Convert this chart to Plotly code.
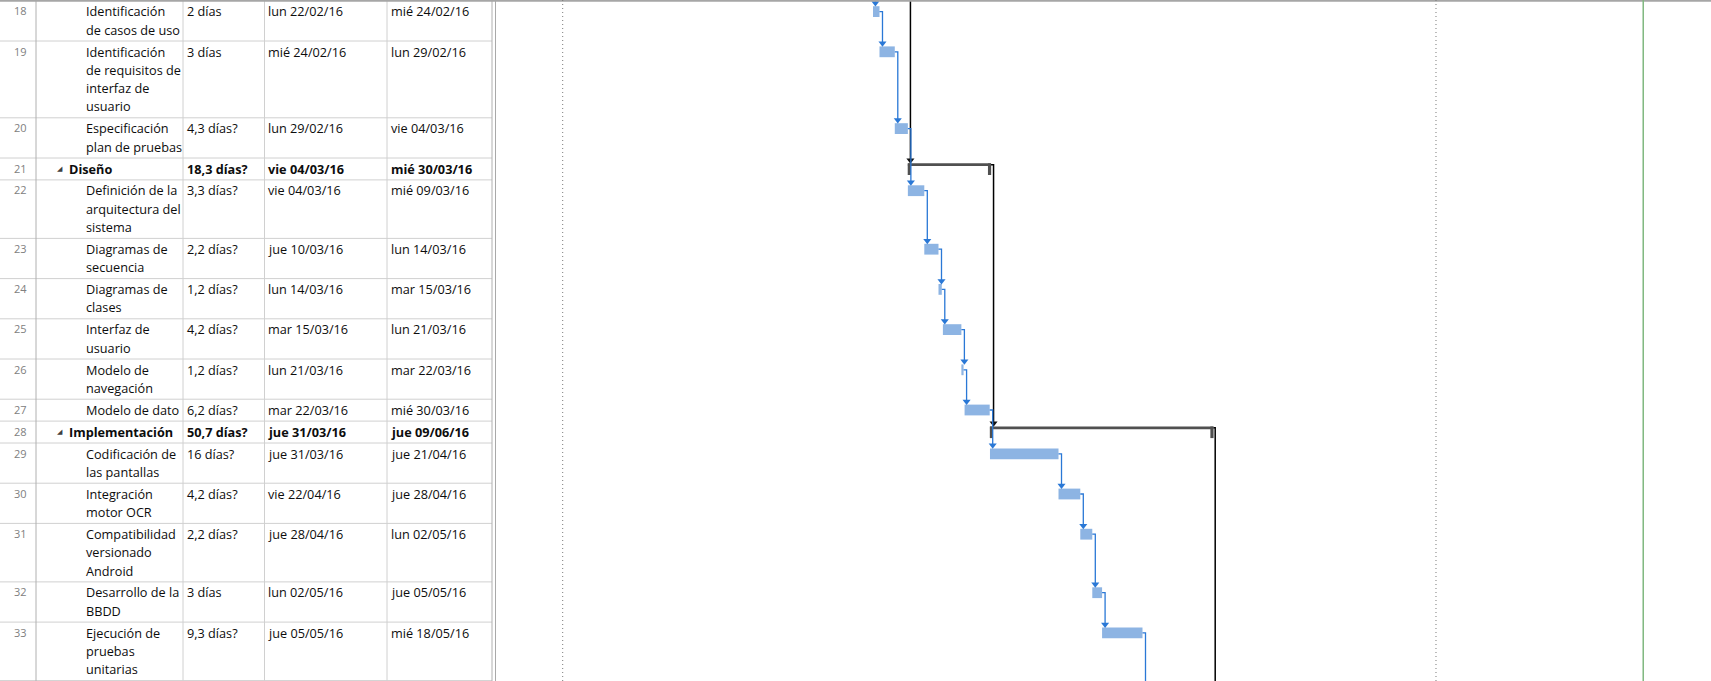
import plotly.graph_objects as go
import pandas as pd

# ---------------- data ----------------
task_ids = [18, 19, 20, 21, 22, 23, 24, 25, 26, 27, 28, 29, 30, 31, 32, 33]
task_names = [
    "Identificación\nde casos de uso",
    "Identificación\nde requisitos de\ninterfaz de\nusuario",
    "Especificación\nplan de pruebas",
    "Diseño",
    "Definición de la\narquitectura del\nsistema",
    "Diagramas de\nsecuencia",
    "Diagramas de\nclases",
    "Interfaz de\nusuario",
    "Modelo de\nnavegación",
    "Modelo de dato",
    "Implementación",
    "Codificación de\nlas pantallas",
    "Integración\nmotor OCR",
    "Compatibilidad\nversionado\nAndroid",
    "Desarrollo de la\nBBDD",
    "Ejecución de\npruebas\nunitarias",
]
is_summary = [False, False, False, True, False, False, False, False, False, False,
              True, False, False, False, False, False]
durations = ["2 días", "3 días", "4,3 días?", "18,3 días?", "3,3 días?", "2,2 días?",
             "1,2 días?", "4,2 días?", "1,2 días?", "6,2 días?", "50,7 días?", "16 días?",
             "4,2 días?", "2,2 días?", "3 días", "9,3 días?"]
start_labels = ["lun 22/02/16", "mié 24/02/16", "lun 29/02/16", "vie 04/03/16", "vie 04/03/16",
                "jue 10/03/16", "lun 14/03/16", "mar 15/03/16", "lun 21/03/16", "mar 22/03/16",
                "jue 31/03/16", "jue 31/03/16", "vie 22/04/16", "jue 28/04/16", "lun 02/05/16",
                "jue 05/05/16"]
finish_labels = ["mié 24/02/16", "lun 29/02/16", "vie 04/03/16", "mié 30/03/16", "mié 09/03/16",
                 "lun 14/03/16", "mar 15/03/16", "lun 21/03/16", "mar 22/03/16", "mié 30/03/16",
                 "jue 09/06/16", "jue 21/04/16", "jue 28/04/16", "lun 02/05/16", "jue 05/05/16",
                 "mié 18/05/16"]
# bar extents as drawn on the timescale
bar_starts = ["2016-02-22 08:00", "2016-02-24 09:40", "2016-02-29 06:34", "2016-03-04 10:38",
              "2016-03-04 10:38", "2016-03-09 16:10", "2016-03-14 04:38", "2016-03-15 14:15",
              "2016-03-21 11:36", "2016-03-22 12:05", "2016-03-30 14:14", "2016-03-30 14:14",
              "2016-04-21 09:55", "2016-04-28 08:29", "2016-05-02 04:10", "2016-05-05 07:00"]
bar_ends = ["2016-02-24 09:40", "2016-02-29 06:34", "2016-03-04 10:38", "2016-03-30 21:55",
            "2016-03-09 16:10", "2016-03-14 04:38", "2016-03-15 05:50", "2016-03-21 11:36",
            "2016-03-22 04:24", "2016-03-30 12:05", "2016-06-09 17:50", "2016-04-21 09:55",
            "2016-04-28 08:29", "2016-05-02 04:10", "2016-05-05 07:00", "2016-05-18 03:55"]
# finish-to-start dependencies (task ids)
task_links = [(18, 19), (19, 20), (20, 22), (22, 23), (23, 24), (24, 25), (25, 26), (26, 27),
              (27, 29), (29, 30), (30, 31), (31, 32), (32, 33)]
summary_links = [(21, 28)]
link_from_above = 18        # task with a predecessor above the view
summary_from_above = 21
link_to_below = 33
summary_to_below = 28
# timescale window and vertical markers
view_start = "2015-10-25 06:35"
view_end = "2016-11-15 05:10"
dotted_markers = ["2015-11-15 12:20", "2016-08-19 15:10"]
green_marker = "2016-10-24 15:10"

# ---------------- layout constants ----------------
W, H = 1711, 681
TABLE_W = 496
col_lines = [36, 183, 264.5, 387, 492]
LINE_H = 18.3
FONT = "Open Sans"
FS = 12.7
BAR_BLUE = "#8db4e3"
LINK_BLUE = "#2a78d6"
SUM_GREY = "#505050"

starts = pd.to_datetime(bar_starts)
ends = pd.to_datetime(bar_ends)
dx = pd.Timedelta(hours=23)
half_tick = pd.Timedelta(hours=11)

n_lines = [len(n.split("\n")) for n in task_names]
row_top = []
y = 0.8
for n in n_lines:
    row_top.append(y)
    y += 3.6 + LINE_H * n
row_bottoms = [t + 3.6 + LINE_H * n for t, n in zip(row_top, n_lines)]
idx = {tid: i for i, tid in enumerate(task_ids)}

fig = go.Figure()

# ---------------- table (annotations on x2) ----------------
annotations = []
for i, tid in enumerate(task_ids):
    top = row_top[i]
    first = top + 10.5
    annotations.append(dict(x=12, y=first - 0.5, text=str(tid), xref="x2", yref="y",
                            xanchor="left", yanchor="middle", showarrow=False,
                            font=dict(family=FONT, size=11, color="#808080")))
    bold = is_summary[i]
    if bold:
        annotations.append(dict(x=55, y=first, text="◢", xref="x2", yref="y",
                                xanchor="left", yanchor="middle", showarrow=False,
                                font=dict(family="DejaVu Sans", size=7, color="#404040")))
    name_x = 67 if bold else 84
    for k, line in enumerate(task_names[i].split("\n")):
        txt = f"<b>{line}</b>" if bold else line
        annotations.append(dict(x=name_x, y=first + k * LINE_H, text=txt, xref="x2", yref="y",
                                xanchor="left", yanchor="middle", showarrow=False,
                                font=dict(family=FONT, size=FS, color="#0d0d0d")))
    for xx, val in [(185, durations[i]), (265.5, start_labels[i]), (389, finish_labels[i])]:
        txt = f"<b>{val}</b>" if bold else val
        annotations.append(dict(x=xx, y=first, text=txt, xref="x2", yref="y",
                                xanchor="left", yanchor="middle", showarrow=False,
                                font=dict(family=FONT, size=FS, color="#0d0d0d")))

shapes = []
for b in row_bottoms:
    shapes.append(dict(type="line", xref="x2", yref="y", x0=0, x1=492, y0=b, y1=b,
                       line=dict(color="#d0d0d0", width=1)))
for j, cx in enumerate(col_lines):
    shapes.append(dict(type="line", xref="x2", yref="y", x0=cx, x1=cx, y0=0, y1=H,
                       line=dict(color="#b0b0b0" if j in (0, 4) else "#d0d0d0", width=1)))
shapes.append(dict(type="line", xref="x2", yref="y", x0=495.5, x1=495.5, y0=0, y1=H,
                   line=dict(color="#a9a9a9", width=1)))
shapes.append(dict(type="line", xref="paper", yref="y", x0=0, x1=1, y0=0.8, y1=0.8,
                   line=dict(color="#a6a6a6", width=2)))
for d in dotted_markers:
    shapes.append(dict(type="line", xref="x", yref="y", x0=d, x1=d, y0=0, y1=H,
                       line=dict(color="#7a7a7a", width=1, dash="1px,3px")))
shapes.append(dict(type="line", xref="x", yref="y", x0=green_marker, x1=green_marker, y0=0, y1=H,
                   line=dict(color="#7fb87f", width=1.5)))

# invisible anchor so x2 exists
fig.add_trace(go.Scatter(x=[0, 496], y=[H, H], mode="markers", marker=dict(opacity=0),
                         xaxis="x2", yaxis="y", hoverinfo="skip", showlegend=False))

# ---------------- gantt ----------------
task_i = [i for i in range(len(task_ids)) if not is_summary[i]]
sum_i = [i for i in range(len(task_ids)) if is_summary[i]]

def bar_center(i):
    return row_top[i] + (6.7 if is_summary[i] else 10.8)

def bar_top(i):
    return row_top[i] + (5.4 if is_summary[i] else 5.5)

# black summary links (drawn first)
bx, by, ax_, ay_ = [], [], [], []
s = idx[summary_from_above]
xl = starts[s] + dx * 0.85
bx += [xl, xl, None]; by += [-2, bar_top(s) - 4, None]
ax_.append(xl); ay_.append(bar_top(s) - 3.2)
for a, b in summary_links:
    ia, ib = idx[a], idx[b]
    xl = ends[ia] + dx * 0.85
    bx += [ends[ia], xl, xl, None]
    by += [bar_center(ia), bar_center(ia), bar_top(ib) - 4, None]
    ax_.append(xl); ay_.append(bar_top(ib) - 3.2)
s = idx[summary_to_below]
xl = ends[s] + dx * 0.6
bx += [ends[s], xl, xl, None]; by += [bar_center(s), bar_center(s), H + 2, None]
fig.add_trace(go.Scatter(x=bx, y=by, mode="lines", line=dict(color="#000000", width=1.5),
                         hoverinfo="skip", showlegend=False))
fig.add_trace(go.Scatter(x=ax_, y=ay_, mode="markers",
                         marker=dict(symbol="triangle-down", size=7, color="#111111"),
                         hoverinfo="skip", showlegend=False))

# summary bars
fig.add_trace(go.Bar(orientation="h", base=[starts[i] for i in sum_i],
                     x=[(ends[i] - starts[i]).total_seconds() * 1000 for i in sum_i],
                     y=[bar_center(i) for i in sum_i], width=2.8,
                     marker=dict(color=SUM_GREY, line=dict(width=0)),
                     hoverinfo="skip", showlegend=False))
tx, ty = [], []
for i in sum_i:
    for xx in (starts[i] + half_tick, ends[i] - half_tick):
        tx += [xx, xx, None]
        ty += [bar_top(i), row_top[i] + 17, None]
fig.add_trace(go.Scatter(x=tx, y=ty, mode="lines", line=dict(color=SUM_GREY, width=3.2),
                         hoverinfo="skip", showlegend=False))

# task bars
fig.add_trace(go.Bar(orientation="h", base=[starts[i] for i in task_i],
                     x=[(ends[i] - starts[i]).total_seconds() * 1000 for i in task_i],
                     y=[bar_center(i) for i in task_i], width=10.8,
                     marker=dict(color=BAR_BLUE, line=dict(width=0)),
                     hoverinfo="skip", showlegend=False))

# blue task links
lx, ly, mx, my = [], [], [], []
s = idx[link_from_above]
xl = starts[s] + dx * 0.8
lx += [xl, xl, None]; ly += [-2, bar_top(s) - 4, None]
mx.append(xl); my.append(bar_top(s) - 3.2)
for a, b in task_links:
    ia, ib = idx[a], idx[b]
    xl = ends[ia] + dx
    lx += [ends[ia], xl, xl, None]
    ly += [bar_center(ia), bar_center(ia), bar_top(ib) - 4, None]
    mx.append(xl); my.append(bar_top(ib) - 3.2)
s = idx[link_to_below]
xl = ends[s] + dx
lx += [ends[s], xl, xl, None]; ly += [bar_center(s), bar_center(s), H + 2, None]
fig.add_trace(go.Scatter(x=lx, y=ly, mode="lines", line=dict(color=LINK_BLUE, width=1.3),
                         hoverinfo="skip", showlegend=False))
fig.add_trace(go.Scatter(x=mx, y=my, mode="markers",
                         marker=dict(symbol="triangle-down", size=7, color=LINK_BLUE),
                         hoverinfo="skip", showlegend=False))

fig.update_layout(
    width=W, height=H, autosize=False,
    margin=dict(l=0, r=0, t=0, b=0),
    paper_bgcolor="white", plot_bgcolor="white",
    barmode="overlay",
    xaxis=dict(type="date", domain=[TABLE_W / W, 1], range=[view_start, view_end],
               visible=False, showgrid=False, zeroline=False),
    xaxis2=dict(domain=[0, TABLE_W / W], range=[0, TABLE_W], visible=False,
                showgrid=False, zeroline=False, anchor="y"),
    yaxis=dict(range=[H, 0], visible=False, showgrid=False, zeroline=False),
    shapes=shapes, annotations=annotations,
    showlegend=False,
)

fig.write_html("out.html", config={"displayModeBar": False},
               post_script="document.body.style.margin='0';document.body.style.overflow='hidden';")
